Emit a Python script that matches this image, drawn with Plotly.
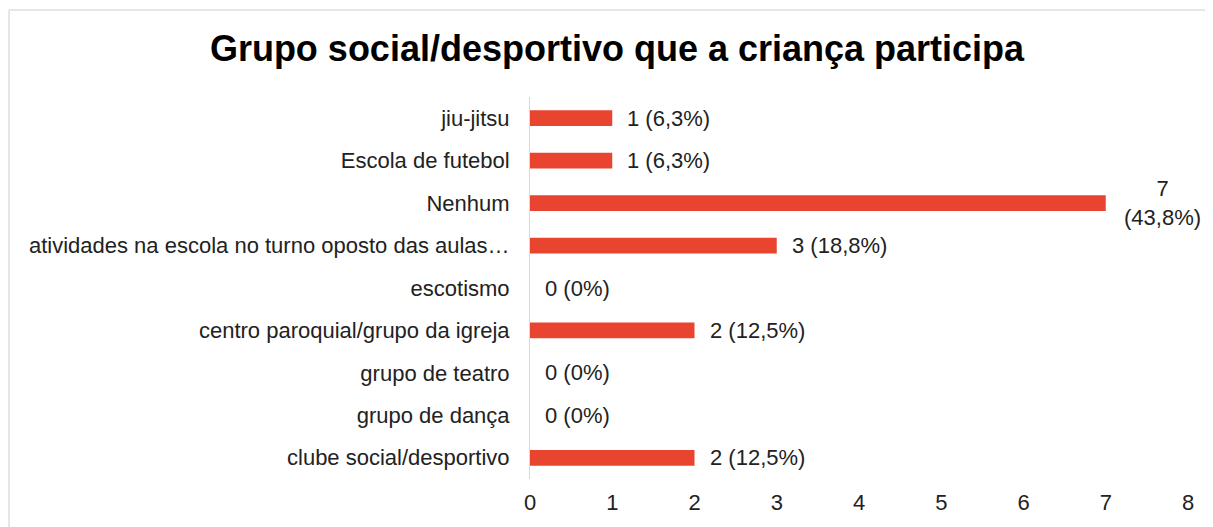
import plotly.graph_objects as go

categories = [
    "jiu-jitsu",
    "Escola de futebol",
    "Nenhum",
    "atividades na escola no turno oposto das aulas…",
    "escotismo",
    "centro paroquial/grupo da igreja",
    "grupo de teatro",
    "grupo de dança",
    "clube social/desportivo",
]
counts = [1, 1, 7, 3, 0, 2, 0, 0, 2]
labels = ["1 (6,3%)", "1 (6,3%)", "7<br>(43,8%)", "3 (18,8%)", "0 (0%)",
          "2 (12,5%)", "0 (0%)", "0 (0%)", "2 (12,5%)"]
x_ticks = [0, 1, 2, 3, 4, 5, 6, 7, 8]

OFF = 8  # page body margin
W, H = 1213 - OFF, 527 - OFF
ml, mt = 530 - OFF, 97 - OFF
pw, ph = 658, 382
mr, mb = W - ml - pw, H - mt - ph

FONT = "Liberation Sans, Arial, Helvetica, sans-serif"

fig = go.Figure()
fig.add_trace(go.Bar(
    y=categories, x=counts, orientation="h",
    marker=dict(color="#E94430", line=dict(width=0)),
    hoverinfo="skip", showlegend=False,
))

for c, v, t in zip(categories, counts, labels):
    two = "<br>" in t
    fig.add_annotation(
        x=v, y=c, xref="x", yref="y", text=t, showarrow=False,
        xanchor="left", yanchor="middle", xshift=13 if not two else 16,
        align="center",
        font=dict(family=FONT, size=22, color="#222222"),
    )

def px_x(p):
    return (p - OFF - ml) / pw

def px_y(p):
    return 1 - (p - OFF - mt) / ph

fig.add_shape(type="line", xref="paper", yref="paper",
              x0=px_x(9), x1=px_x(1213), y0=px_y(10), y1=px_y(10),
              line=dict(color="#E6E6E6", width=2))
fig.add_shape(type="line", xref="paper", yref="paper",
              x0=px_x(9), x1=px_x(9), y0=px_y(10), y1=px_y(527),
              line=dict(color="#E6E6E6", width=2))

fig.update_layout(
    width=W, height=H,
    margin=dict(l=ml, r=mr, t=mt, b=mb, pad=0),
    paper_bgcolor="white", plot_bgcolor="white",
    bargap=0.63,
    title=dict(text="<b>Grupo social/desportivo que a criança participa</b>",
               x=(617 - OFF) / W, xanchor="center", y=1 - (48 - OFF) / H, yanchor="middle",
               font=dict(family=FONT, size=36, color="#000000")),
    xaxis=dict(range=[0, 8], tickvals=x_ticks, showgrid=False, zeroline=False,
               showline=False, ticks="",
               tickfont=dict(family=FONT, size=22, color="#222222"),
               ticklabelstandoff=8),
    yaxis=dict(autorange="reversed", showgrid=False, zeroline=False,
               showline=True, linecolor="#D9D9D9", linewidth=1, ticks="",
               ticklabelstandoff=15,
               tickfont=dict(family=FONT, size=22, color="#222222")),
    font=dict(family=FONT),
)

fig.write_html("out.html")
